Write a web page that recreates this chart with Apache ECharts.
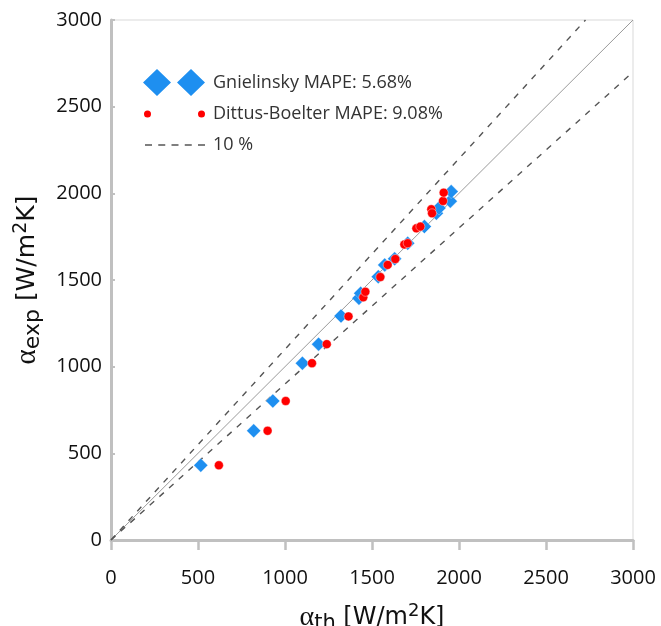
<!DOCTYPE html>
<html>
<head>
<meta charset="utf-8">
<script src="https://cdn.jsdelivr.net/npm/echarts@6/dist/echarts.min.js"></script>
<style>html,body{margin:0;padding:0;background:#fff}#chart{width:661px;height:626px}</style>
</head>
<body>
<div id="chart"></div>
<script>
// Gnielinsky correlation: [alpha_th, alpha_exp]
const gnielinsky = [[516,431],[820,630],[930,802],[1100,1020],[1193,1130],[1322,1292],[1425,1395],[1435,1423],[1536,1519],[1573,1587],[1630,1622],[1705,1712],[1801,1808],[1870,1885],[1885,1915],[1950,1955],[1955,2010]];
// Dittus-Boelter correlation: [alpha_th, alpha_exp]
const dittusBoelter = [[620,431],[900,630],[1004,802],[1155,1020],[1240,1130],[1365,1290],[1450,1400],[1462,1432],[1548,1517],[1590,1587],[1634,1621],[1686,1705],[1705,1712],[1755,1798],[1778,1808],[1841,1908],[1845,1885],[1908,1956],[1912,2004]];
// reference lines
const lineEqual = [[0,0],[3000,3000]];
const linePlus10 = [[0,0],[2727,3000]];
const lineMinus10 = [[0,0],[3000,2700]];
const axisTicks = [0,500,1000,1500,2000,2500,3000];
const nameG = 'Gnielinsky MAPE: 5.68%';
const nameD = 'Dittus-Boelter MAPE: 9.08%';
const nameL = '10 %';

const blue = '#1e8ff0', red = '#ff0000', dashC = '#555555';
const tickFont = {fontFamily:'Open Sans', fontSize:20, color:'#111'};
const legendText = {fontFamily:'Open Sans', fontSize:18, color:'#333', padding:[0,0,0,3]};

function titleRich(sz){
  return {
    a:{fontFamily:'Liberation Serif', fontSize:sz+4, color:'#111'},
    s:{fontFamily:'DejaVu Sans', fontSize:sz-3, color:'#111', padding:[12,0,0,0]},
    n:{fontFamily:'DejaVu Sans', fontSize:sz, color:'#111'},
    p:{fontFamily:'DejaVu Sans', fontSize:sz-6, color:'#111', padding:[0,0,12,0]}
  };
}

const chart = echarts.init(document.getElementById('chart'), null, {renderer:'canvas'});
chart.setOption({
  animation:false,
  grid:{left:111, right:28, top:20, bottom:86, show:true, borderColor:'#d9d9d9', borderWidth:1,
        containLabel:false, outerBoundsMode:'none'},
  xAxis:{
    type:'value', min:0, max:3000, interval:500,
    axisLine:{show:true, onZero:false, lineStyle:{color:'#c0c0c0', width:3}},
    axisTick:{show:true, inside:false, length:10, lineStyle:{color:'#c0c0c0', width:2.5}},
    axisLabel:{...tickFont, margin:28, formatter:v=>axisTicks.includes(v)?String(v):''},
    splitLine:{show:false},
    name:'{a|α}{s|th}{n| [W/m}{p|2}{n|K]}',
    nameLocation:'middle', nameGap:61,
    nameTextStyle:{rich:titleRich(24)}
  },
  yAxis:{
    type:'value', min:0, max:3000, interval:500,
    axisLine:{show:true, onZero:false, lineStyle:{color:'#c0c0c0', width:3}},
    axisTick:{show:true, inside:true, length:4, lineStyle:{color:'#c0c0c0', width:2}},
    axisLabel:{...tickFont, margin:9, formatter:v=>axisTicks.includes(v)?String(v):''},
    splitLine:{show:false},
    name:'{a|α}{s|exp}{n| [W/m}{p|2}{n|K]}',
    nameLocation:'middle', nameGap:67, nameRotate:90,
    nameTextStyle:{rich:titleRich(25)}
  },
  legend:[
    {left:143, top:69, padding:0, itemWidth:62, itemHeight:27, selectedMode:false,
     data:[{name:nameG, icon:'path://M0,13.5L14,0L28,13.5L14,27ZM34,13.5L48,0L62,13.5L48,27Z'}],
     itemStyle:{color:blue, borderWidth:0}, textStyle:legendText},
    {left:144, top:105, padding:0, itemWidth:61, itemHeight:7, selectedMode:false,
     data:[{name:nameD, icon:'path://M0,3.5A3.5,3.5,0,1,0,7,3.5A3.5,3.5,0,1,0,0,3.5ZM54,3.5A3.5,3.5,0,1,0,61,3.5A3.5,3.5,0,1,0,54,3.5Z'}],
     itemStyle:{color:red, borderWidth:0}, textStyle:legendText},
    {left:145, top:136, padding:0, itemWidth:60, itemHeight:1.6, selectedMode:false,
     data:[{name:nameL, icon:'path://M0,0h7v1.6h-7ZM13.25,0h7v1.6h-7ZM26.5,0h7v1.6h-7ZM39.75,0h7v1.6h-7ZM53,0h7v1.6h-7Z'}],
     itemStyle:{color:dashC, borderWidth:0}, lineStyle:{width:0}, textStyle:legendText}
  ],
  series:[
    {name:'1:1', type:'line', data:lineEqual, showSymbol:false, silent:true, z:1,
     lineStyle:{color:'#9a9a9a', width:1}, itemStyle:{color:'#9a9a9a'}},
    {name:nameL, type:'line', data:linePlus10, showSymbol:false, silent:true, z:1,
     lineStyle:{color:dashC, width:1.4, type:[6,7]}, itemStyle:{color:dashC}},
    {name:nameL, type:'line', data:lineMinus10, showSymbol:false, silent:true, z:1,
     lineStyle:{color:dashC, width:1.4, type:[6,7]}, itemStyle:{color:dashC}},
    {name:nameG, type:'scatter', data:gnielinsky, symbol:'diamond', symbolSize:14, z:3,
     itemStyle:{color:blue, borderColor:'rgba(255,255,255,0.6)', borderWidth:0.5, opacity:1}},
    {name:nameD, type:'scatter', data:dittusBoelter, symbol:'circle', symbolSize:9, z:4,
     itemStyle:{color:red, borderColor:'rgba(255,255,255,0.7)', borderWidth:0.6, opacity:1}}
  ]
});
</script>
</body>
</html>
